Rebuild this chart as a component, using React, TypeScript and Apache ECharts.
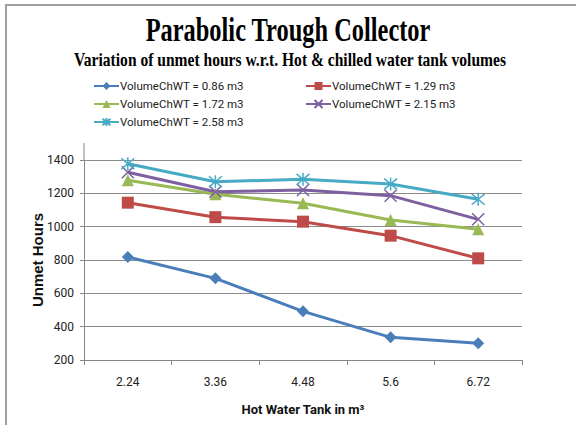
import React, { useEffect, useRef } from "react";
import * as echarts from "echarts";

const categories = ["2.24", "3.36", "4.48", "5.6", "6.72"];
const seriesNames = [
  "VolumeChWT = 0.86 m3",
  "VolumeChWT = 1.29 m3",
  "VolumeChWT = 1.72 m3",
  "VolumeChWT = 2.15 m3",
  "VolumeChWT = 2.58 m3",
];
const s086 = [818, 690, 492, 336, 300];
const s129 = [1144, 1057, 1030, 946, 810];
const s172 = [1278, 1195, 1140, 1040, 984];
const s215 = [1326, 1210, 1220, 1186, 1044];
const s258 = [1378, 1270, 1284, 1256, 1164];
const yTicks = { min: 200, max: 1400, interval: 200 };

const colors = ["#4a7ebb", "#be4b48", "#98b954", "#7d60a0", "#46aac5"];
const NARROW = "Roboto, sans-serif";

export default function App() {
  const ref = useRef<HTMLDivElement>(null);
  useEffect(() => {
    if (!ref.current) return;
    const chart = echarts.init(ref.current, null, { renderer: "svg" });
    const data = [s086, s129, s172, s215, s258];
    const symbols = [
      "diamond",
      "rect",
      "triangle",
      "path://M0 0L10 10M10 0L0 10",
      "path://M0 0L10 10M10 0L0 10M5 -1L5 11",
    ];
    const sizes = [12, 12, 12, 12, 13];
    const legendPos = [
      { left: 93, top: 80 },
      { left: 305, top: 80 },
      { left: 93, top: 98 },
      { left: 305, top: 98 },
      { left: 93, top: 116 },
    ];
    const option: any = {
      animation: false,
      backgroundColor: "#ffffff",
      graphic: [
        { type: "line", shape: { x1: 6, y1: 5, x2: 576, y2: 5 }, style: { stroke: "#a0a0a0", lineWidth: 2 } },
        { type: "line", shape: { x1: 6, y1: 4, x2: 6, y2: 425 }, style: { stroke: "#a0a0a0", lineWidth: 2 } },
        { type: "line", shape: { x1: 84, y1: 143, x2: 84, y2: 160 }, style: { stroke: "#868686", lineWidth: 1 } },
        {
          type: "text", x: 288, y: 30, scaleX: 0.74,
          style: {
            text: "Parabolic Trough Collector", textAlign: "center", textVerticalAlign: "middle",
            font: "bold 33px 'Liberation Serif', serif", fill: "#000",
          },
        },
        {
          type: "text", x: 290, y: 60, scaleX: 0.865,
          style: {
            text: "Variation of unmet hours w.r.t. Hot & chilled water tank volumes",
            textAlign: "center", textVerticalAlign: "middle",
            font: "bold 18px 'Liberation Serif', serif", fill: "#000",
          },
        },
      ],
      legend: seriesNames.map((n, i) => ({
        data: [n],
        left: legendPos[i].left,
        top: legendPos[i].top,
        itemWidth: 25,
        itemHeight: 10,
        itemGap: 2,
        padding: 0,
        textStyle: { fontFamily: NARROW, fontSize: 11.5, color: "#222", padding: [0, 0, 0, -4] },
      })),
      grid: { left: 84, right: 54, top: 160, bottom: 65 },
      xAxis: {
        type: "category",
        data: categories,
        boundaryGap: true,
        name: "Hot Water Tank in m³",
        nameLocation: "middle",
        nameGap: 43,
        nameMoveOverlap: false,
        nameTextStyle: { fontFamily: NARROW, fontSize: 13, fontWeight: "bold", color: "#111" },
        axisLine: { lineStyle: { color: "#868686" } },
        axisTick: { show: true, length: 5, lineStyle: { color: "#868686" } },
        axisLabel: { fontFamily: NARROW, fontSize: 12, color: "#222", margin: 16 },
      },
      yAxis: {
        type: "value",
        min: yTicks.min,
        max: yTicks.max,
        interval: yTicks.interval,
        name: "Unmet Hours",
        nameLocation: "middle",
        nameGap: 39,
        nameMoveOverlap: false,
        nameTextStyle: { fontFamily: "'Liberation Sans', sans-serif", fontSize: 15, fontWeight: "bold", color: "#111" },
        axisLine: { show: true, lineStyle: { color: "#868686" } },
        axisTick: { show: true, length: 4, lineStyle: { color: "#868686" } },
        axisLabel: {
          fontFamily: NARROW, fontSize: 12, color: "#222", margin: 10,
          formatter: (v: number) => String(v),
        },
        splitLine: { lineStyle: { color: "#8c8c8c" } },
      },
      series: seriesNames.map((n, i) => ({
        name: n,
        type: "line",
        data: data[i],
        symbol: symbols[i],
        symbolSize: sizes[i],
        showSymbol: true,
        lineStyle: { color: colors[i], width: 3 },
        itemStyle: { color: colors[i], borderColor: colors[i], borderWidth: i >= 3 ? 1.5 : 0 },
      })),
    };
    chart.setOption(option);
    return () => chart.dispose();
  }, []);
  return <div ref={ref} style={{ width: 576, height: 425, position: "absolute", left: 0, top: 0 }} />;
}
